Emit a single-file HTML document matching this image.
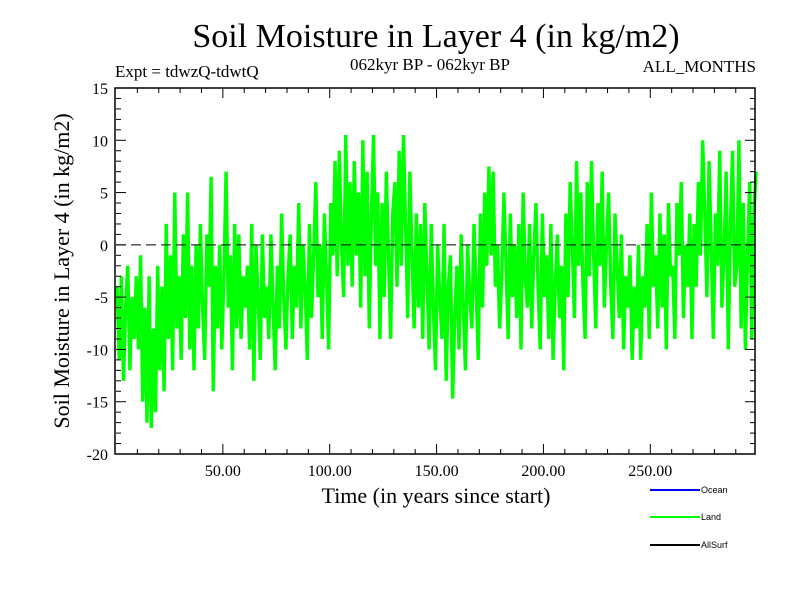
<!DOCTYPE html>
<html><head><meta charset="utf-8"><style>
body{margin:0;background:#fff}
svg{display:block}
text{font-family:"Liberation Serif",serif;fill:#000}
</style></head><body>
<svg id="c" width="800" height="600">
<text x="436" y="47" font-size="34" text-anchor="middle">Soil Moisture in Layer 4 (in kg/m2)</text>
<text x="115" y="77" font-size="17">Expt = tdwzQ-tdwtQ</text>
<text x="430" y="70" font-size="17" text-anchor="middle">062kyr BP - 062kyr BP</text>
<text x="756" y="72" font-size="17" text-anchor="end">ALL_MONTHS</text>
<text transform="translate(69,271) rotate(-90)" font-size="22" text-anchor="middle">Soil Moisture in Layer 4 (in kg/m2)</text>
<text x="436" y="503" font-size="22" text-anchor="middle">Time (in years since start)</text>
<g id="plot"></g>
<g>
<line x1="650" y1="490" x2="700" y2="490" stroke="#0000ff" stroke-width="2"/>
<text x="701" y="493" font-size="9" style="font-family:'Liberation Sans',sans-serif">Ocean</text>
<line x1="650" y1="517" x2="700" y2="517" stroke="#00ff00" stroke-width="2"/>
<text x="701" y="520" font-size="9" style="font-family:'Liberation Sans',sans-serif">Land</text>
<line x1="650" y1="545" x2="700" y2="545" stroke="#000" stroke-width="2"/>
<text x="701" y="548" font-size="9" style="font-family:'Liberation Sans',sans-serif">AllSurf</text>
</g>
</svg>
<script>
const landValues=[
-4,-11,-3,-13,-6,-2,-12,-5,-9,-3,
-10,-1,-15,-6,-17,-3,-17.5,-8,-16,-2,
-12,-4,-14,2,-9,-1,-12,5,-8,-3,
-11,1,-7,5,-10,-2,-12,0,-8,2,
-6,-11,1,-4,6.5,-14,-2,-8,0,-10,
-3,7,-6,-1,-12,2,-8,1,-9,-3,
-6,-2,-10,2,-13,0,-5,-11,1,-7,
-4,-9,1,-6,-12,-2,-8,3,-5,-10,
-3,1,-9,-2,-6,4,-8,0,-4,-11,
2,-7,-1,6,-5,0,-9,3,-3,-10,
4,-1,8,-3,9,0,-5,10.5,-2,6,
-4,8,-1,5,-6,10,-3,7,-8,3,
10.5,-2,5,-9,4,-5,7,-1,-9,3,
6,-4,9,-2,10.5,2,-7,7,-1,-8,
3,-6,2,-9,4,-3,-10,2,-6,-12,
0,-5,-9,2,-13,-4,-1,-14.7,-7,-2,
-10,1,-6,-12,0,-5,-8,2,-4,-11,
3,-6,5,-2,7.5,-1,7,-4,0,-8,
-3,5,-2,-9,3,-5,0,-7,2,-10,
5,-3,-6,2,-8,-1,4,-4,-10,3,
-5,-1,-9,2,-11,-4,1,-7,-2,-12,
3,-5,6,0,-7,8,-2,5,-4,-9,
6,-3,8,-1,-8,4,-2,7,-6,0,
5,-4,-9,3,-2,-7,1,-10,-3,-6,
-1,-11,-4,-8,0,-11,-3,-6,2,-9,
5,-4,-1,-8,3,-6,1,-10,4,-3,
-2,-9,4,-1,6,-7,0,-4,3,-9,
2,-4,6,-1,10,3,-5,8,0,-9,
3,-2,9,-6,-1,7,-10,2,9,-4,
-2,10,-8,4,-10,-1,6,-9,3,7];
const xTickValues=[50,100,150,200,250];
const xTickLabels=["50.00","100.00","150.00","200.00","250.00"];
const yTickValues=[15,10,5,0,-5,-10,-15,-20];
const yTickLabels=["15","10","5","0","-5","-10","-15","-20"];
const X0=116,X1=755,Y0=88,Y1=454,XMIN=0,XMAX=299,YMIN=-20,YMAX=15;
const sx=v=>X0+(v-XMIN)/(XMAX-XMIN)*(X1-X0);
const sy=v=>Y1-(v-YMIN)/(YMAX-YMIN)*(Y1-Y0);
const NS="http://www.w3.org/2000/svg",g=document.getElementById('plot');
function mk(t,a){const e=document.createElementNS(NS,t);for(const k in a)e.setAttribute(k,a[k]);g.appendChild(e);return e;}
let d=landValues.map((v,i)=>(i?'L':'M')+sx(i+0.5).toFixed(2)+','+sy(v).toFixed(2)).join('');
const line=mk('path',{d:d,fill:'none',stroke:'#00ff00','stroke-width':3.4,'stroke-linejoin':'bevel'});


const z=mk('line',{x1:X0,x2:X1,y1:sy(0),y2:sy(0),stroke:'#000','stroke-width':1,'stroke-dasharray':'10,5'});


const f=mk('rect',{x:X0-1,y:Y0,width:X1-X0+1,height:Y1-Y0,fill:'none',stroke:'#000','stroke-width':1.5});


for(let v=YMIN;v<=YMAX;v++){const y=sy(v),L=(v%5===0)?10:5;
mk('line',{x1:X0,x2:X0+L,y1:y,y2:y,stroke:'#000','stroke-width':1});
mk('line',{x1:X1-L,x2:X1,y1:y,y2:y,stroke:'#000','stroke-width':1});}
yTickValues.forEach((v,i)=>{const t=mk('text',{x:X0-8,y:sy(v)+6,'font-size':16,'text-anchor':'end'});t.textContent=yTickLabels[i];

});
for(let v=10;v<XMAX;v+=10){const x=sx(v),L=(v%50===0)?10:5;
mk('line',{x1:x,x2:x,y1:Y1,y2:Y1-L,stroke:'#000','stroke-width':1});
mk('line',{x1:x,x2:x,y1:Y0,y2:Y0+L,stroke:'#000','stroke-width':1});}
xTickValues.forEach((v,i)=>{const t=mk('text',{x:sx(v),y:Y1+22,'font-size':16,'text-anchor':'middle'});t.textContent=xTickLabels[i];

});
</script>
</body></html>
